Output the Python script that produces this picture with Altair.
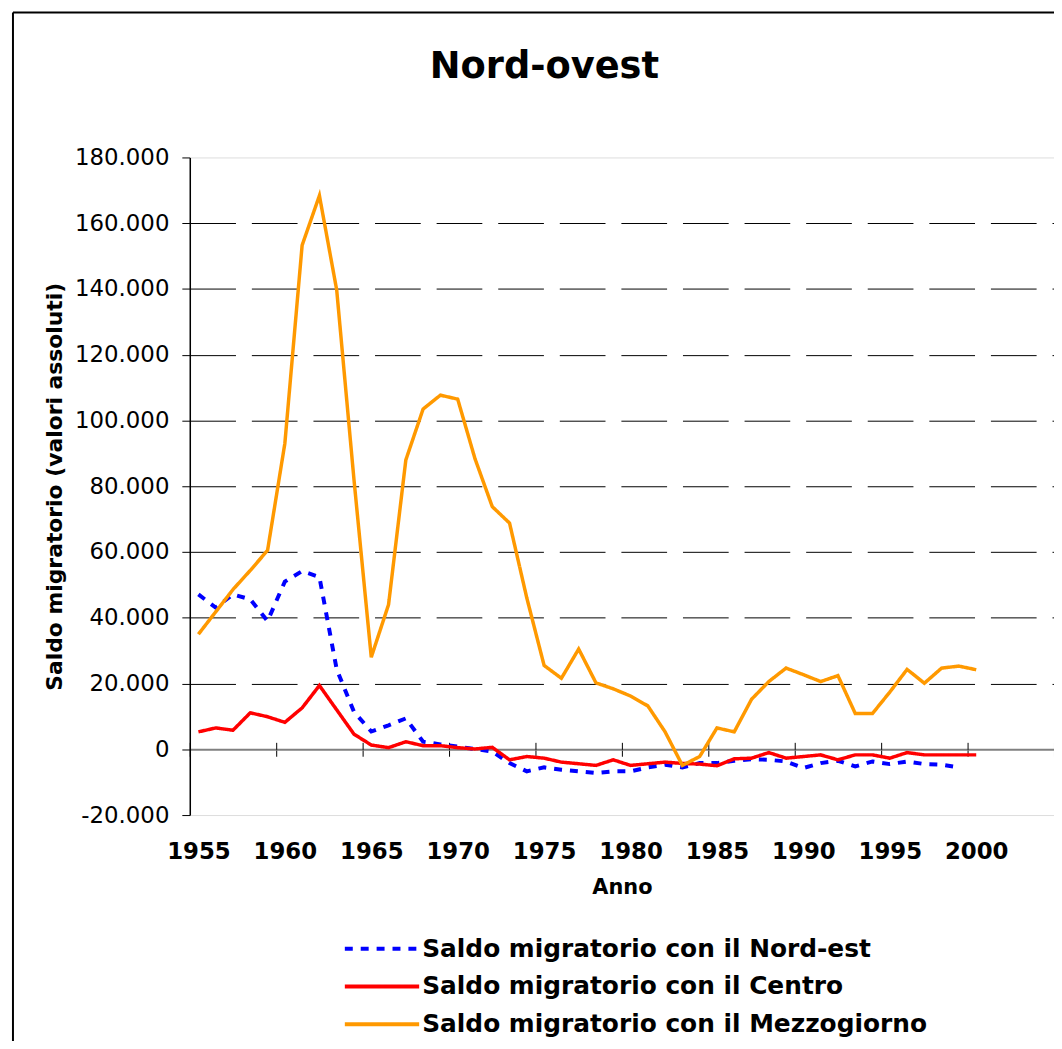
import altair as alt
import pandas as pd

anni = list(range(1955, 2001))
nord_est = [47100, 43100, 47100, 45600, 39000, 51000, 54200, 52400, 24300, 11400, 5400, 7300,
            9400, 2300, 1500, 800, 100, -700, -4200, -6700, -5500, -6200, -6700, -7200, -6700, -6700, -5500, -4700,
            -5500, -4200, -4200, -3500, -3000, -3200, -3700, -5700, -4200, -3500, -5200, -3700, -4500, -3700, -4500, -4700, -5500, None]
centro = [5300, 6500, 5800, 11100, 9900, 8200, 12600, 19400, 12000, 4600, 1300, 500,
          2300, 1100, 1100, 500, 100, 600, -3200, -2200, -2700, -3900, -4400, -4900, -3200, -4900, -4400, -3900,
          -4300, -4500, -5000, -2900, -2700, -1000, -2700, -2200, -1700, -3200, -1700, -1700, -2700, -1000, -1700, -1700, -1700, -1700]
mezzogiorno = [35000, 41800, 48600, 54400, 60500, 93000, 153300, 168400, 139700, 82000, 28000, 44000,
               88000, 103500, 107700, 106500, 88400, 73800, 68800, 46000, 25500, 21600, 30500, 20200, 18400, 16200, 13200, 5300,
               -4900, -2200, 6500, 5300, 15200, 20600, 24700, 22700, 20600, 22400, 10900, 10900, 17400, 24300, 20100, 24700, 25300, 24200]
serie_nomi = ["Saldo migratorio con il Nord-est", "Saldo migratorio con il Centro",
              "Saldo migratorio con il Mezzogiorno"]
serie_colori = ["#0000FF", "#FF0000", "#FF9900"]
titolo = "Nord-ovest"
y_ticks = list(range(-20000, 180001, 20000))
x_label_anni = list(range(1955, 2001, 5))
x_tick_pos = [1954.5 + 5 * k for k in range(11)]

rows = []
for nome, vals in zip(serie_nomi, [nord_est, centro, mezzogiorno]):
    for a, v in zip(anni, vals):
        if v is not None:
            rows.append({"anno": a, "serie": nome, "valore": v})
df = pd.DataFrame(rows)

FONT = "DejaVu Sans"
W, H = 870, 662
zero_from_bottom = H * 20000 / 200000
zero_from_top = H - zero_from_bottom

xscale = alt.Scale(domain=[1954.5, 2004.5], nice=False, zero=False)
yscale = alt.Scale(domain=[-20000, 180000], nice=False, zero=False)

leg = alt.Legend(orient="none", legendX=181, legendY=784, title=None, symbolType="M-4,0H4",
                 symbolSize=350, symbolStrokeWidth=4, labelFont=FONT, labelFontSize=25,
                 labelFontWeight="bold", labelColor="black", rowPadding=12, labelOffset=28,
                 labelLimit=0, padding=0)
color = alt.Color("serie:N", scale=alt.Scale(domain=serie_nomi, range=serie_colori), legend=leg)
dash = alt.StrokeDash("serie:N", scale=alt.Scale(domain=serie_nomi, range=[[8, 8], [1, 0], [1, 0]]), legend=leg)

y_axis = alt.Axis(values=y_ticks,
                  labelExpr="(datum.value < 0 ? '-' : '') + replace(format(abs(datum.value), ','), ',', '.')",
                  labelFont=FONT, labelFontSize=23, labelColor="black", labelPadding=13,
                  tickSize=8, tickColor="black", tickWidth=1,
                  domainColor="black", domainWidth=1.5,
                  grid=True, gridDash=[46, 16], gridWidth=1,
                  gridColor={"condition": {"test": "datum.value === 0 || datum.value === 180000 || datum.value === -20000",
                                           "value": "transparent"}, "value": "black"},
                  title="Saldo migratorio (valori assoluti)", titleFont=FONT, titleFontSize=22,
                  titleFontWeight="bold", titleColor="black", titlePadding=8)

x_axis_labels = alt.Axis(orient="bottom", values=x_label_anni, format="d", labelFont=FONT,
                         labelFontSize=23, labelFontWeight="bold", labelColor="black",
                         ticks=False, domain=False, grid=False, labelPadding=26, labelFlush=False,
                         title="Anno", titleFont=FONT, titleFontSize=21, titleFontWeight="bold",
                         titleColor="black", titlePadding=13)

base = alt.Chart(df)


def line_layer(nome, width, first=False):
    return base.transform_filter(alt.datum.serie == nome).mark_line(strokeWidth=width).encode(
        x=alt.X("anno:Q", scale=xscale, axis=x_axis_labels if first else None),
        y=alt.Y("valore:Q", scale=yscale, axis=y_axis if first else None),
        color=color,
        strokeDash=dash,
    )


blu = line_layer(serie_nomi[0], 4, first=True)
rosso = line_layer(serie_nomi[1], 3.5)
arancio = line_layer(serie_nomi[2], 3.5)

tick_bottom = base.mark_point(opacity=0).encode(
    x=alt.X("anno:Q", scale=xscale,
            axis=alt.Axis(orient="bottom", offset=-zero_from_bottom, values=x_tick_pos, labels=False,
                          tickSize=7, tickColor="black", tickWidth=1, domainColor="#808080",
                          domainWidth=2, grid=False, title=None)))
tick_top = base.mark_point(opacity=0).encode(
    x=alt.X("anno:Q", scale=xscale,
            axis=alt.Axis(orient="top", offset=-zero_from_top, values=x_tick_pos, labels=False,
                          tickSize=7, tickColor="black", tickWidth=1, domain=False,
                          grid=False, title=None)))

one = alt.Chart(pd.DataFrame({"k": [0]}))
bordo_sx = one.mark_rule(color="black", strokeWidth=2).encode(
    x=alt.value(-178), y=alt.value(-146), y2=alt.value(H + 240))
bordo_top = one.mark_rule(color="black", strokeWidth=2).encode(
    x=alt.value(-178), x2=alt.value(W + 10), y=alt.value(-146))
titolo_txt = one.mark_text(text=titolo, font=FONT, fontSize=37, fontWeight="bold", align="center",
                           baseline="alphabetic", color="black").encode(
    x=alt.value(357), y=alt.value(-80))

chart = alt.layer(tick_bottom, tick_top, blu, rosso, arancio, bordo_sx, bordo_top, titolo_txt).resolve_axis(
    x="independent", y="independent"
).properties(
    width=W, height=H,
    autosize=alt.AutoSizeParams(type="none"),
    padding={"left": 183, "top": 147, "right": 0, "bottom": 224},
).configure_view(stroke="#808080", strokeWidth=1.5).configure(font=FONT, background="white")

chart.save("out.html", embed_options={"renderer": "svg", "actions": False})
